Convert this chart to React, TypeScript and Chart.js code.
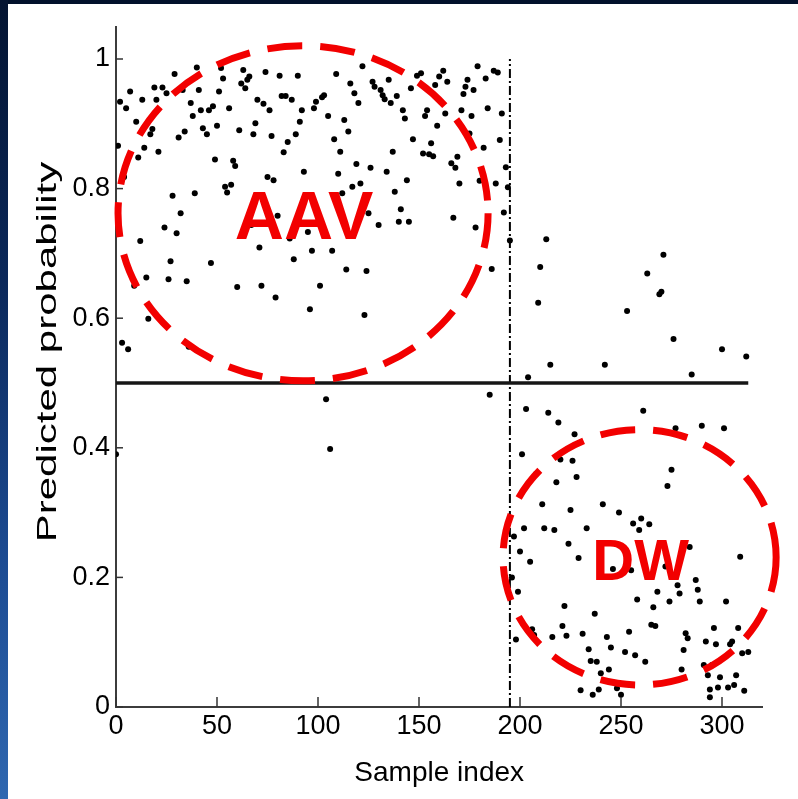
import React, { useEffect, useRef } from "react";
import { Chart, registerables } from "chart.js";

Chart.register(...registerables);

// ---- data ----
const aavIndex = [
  1, 4, 2, 5, 7, 10, 13, 14, 11, 18, 17, 19, 23, 20, 25, 21, 29, 33, 31, 34,
  37, 38, 40, 41, 42, 43, 45, 46, 48, 50, 49, 51, 53, 52, 56, 54, 55, 28, 39, 32,
  24, 30, 12, 27, 47, 15, 26, 35, 9, 16, 3, 6, 36,
  63, 62, 64, 66, 65, 74, 81, 90, 109, 70, 73, 76, 82, 84, 87, 92, 91, 89, 85, 83,
  77, 69, 68, 61, 98, 99, 102, 103, 105, 108, 111, 113, 58, 59, 57, 75, 78, 93, 110, 112,
  80, 67, 86, 95, 71, 97, 107, 88, 114, 60, 72, 101, 79, 96, 104, 100,
  122, 116, 118, 120, 127, 128, 131, 132, 133, 135, 136, 139, 142, 143, 146, 149, 151, 154, 153, 158,
  160, 162, 164, 163, 159, 147, 156, 152, 155, 157, 137, 115, 119, 126, 134, 121, 117, 144, 138, 166,
  125, 141, 130, 140, 145, 167, 124, 123,
  179, 187, 189, 183, 174, 173, 172, 177, 184, 171, 176, 191, 175, 182, 190, 169, 168, 170, 180, 188,
  193, 194, 192, 178, 195, 186, 185, 0, 106,
];
const aavProb = [
  0.866, 0.818, 0.934, 0.924, 0.95, 0.903, 0.937, 0.863, 0.848, 0.892, 0.884, 0.956, 0.956, 0.937, 0.947, 0.857, 0.977, 0.952, 0.879, 0.888,
  0.932, 0.912, 0.987, 0.952, 0.921, 0.893, 0.884, 0.921, 0.927, 0.897, 0.845, 0.95, 0.97, 0.986, 0.924, 0.803, 0.794, 0.789, 0.793, 0.762,
  0.74, 0.731, 0.719, 0.688, 0.685, 0.663, 0.66, 0.657, 0.65, 0.599, 0.562, 0.552, 0.556,
  0.983, 0.962, 0.955, 0.973, 0.968, 0.98, 0.974, 0.974, 0.977, 0.937, 0.931, 0.921, 0.943, 0.943, 0.937, 0.921, 0.903, 0.884, 0.872, 0.856,
  0.881, 0.901, 0.884, 0.89, 0.924, 0.934, 0.941, 0.944, 0.912, 0.876, 0.857, 0.906, 0.843, 0.835, 0.806, 0.818, 0.813, 0.826, 0.823, 0.793,
  0.758, 0.744, 0.723, 0.733, 0.709, 0.704, 0.704, 0.691, 0.675, 0.648, 0.65, 0.65, 0.632, 0.614, 0.475, 0.759,
  0.989, 0.962, 0.947, 0.932, 0.965, 0.957, 0.952, 0.944, 0.938, 0.968, 0.932, 0.943, 0.921, 0.908, 0.955, 0.974, 0.978, 0.921, 0.912, 0.96,
  0.973, 0.982, 0.965, 0.916, 0.897, 0.876, 0.87, 0.854, 0.853, 0.85, 0.857, 0.888, 0.838, 0.832, 0.826, 0.808, 0.803, 0.813, 0.795, 0.839,
  0.762, 0.768, 0.744, 0.749, 0.749, 0.755, 0.673, 0.605,
  0.989, 0.982, 0.979, 0.97, 0.968, 0.957, 0.946, 0.952, 0.924, 0.921, 0.912, 0.916, 0.885, 0.863, 0.875, 0.849, 0.832, 0.808, 0.812, 0.808,
  0.833, 0.802, 0.763, 0.74, 0.72, 0.676, 0.482, 0.39, 0.398,
];
const dwIndex = [
  204, 203, 201, 202, 197, 200, 196, 199, 198,
  213, 210, 209, 253, 215, 242, 214, 219, 227, 220, 226, 208, 228, 218, 211, 225, 241, 249, 212, 217, 233,
  256, 259, 224, 205, 229, 246, 255, 258, 222, 237, 221, 206, 207, 216, 223, 231, 243, 254, 234, 245,
  252, 257, 235, 238, 240, 244, 230, 236, 239, 248, 250,
  266, 265, 268, 274, 272, 278, 279, 284, 287, 288, 289, 302, 309, 260, 264,
  271, 263, 270, 269, 276, 300, 312, 285, 261, 277, 290, 301, 275, 273,
  267, 282, 283, 296, 308, 281, 292, 297, 304, 305, 310, 313, 262, 280, 291, 295, 293, 299, 307, 294,
  298, 294, 303, 306, 311,
];
const dwProb = [
  0.509, 0.46, 0.39, 0.276, 0.263, 0.24, 0.2, 0.178, 0.104,
  0.722, 0.679, 0.624, 0.611, 0.528, 0.528, 0.454, 0.439, 0.421, 0.382, 0.38, 0.36, 0.355, 0.347, 0.313, 0.304, 0.313, 0.3, 0.276, 0.273, 0.276,
  0.283, 0.273, 0.252, 0.224, 0.23, 0.213, 0.211, 0.166, 0.156, 0.144, 0.125, 0.12, 0.111, 0.108, 0.11, 0.113, 0.108, 0.116, 0.089, 0.092,
  0.085, 0.08, 0.071, 0.07, 0.052, 0.058, 0.026, 0.019, 0.027, 0.029, 0.019,
  0.154, 0.127, 0.178, 0.163, 0.217, 0.188, 0.175, 0.247, 0.196, 0.181, 0.163, 0.163, 0.232, 0.291, 0.282,
  0.698, 0.669, 0.641, 0.637, 0.568, 0.552, 0.541, 0.513, 0.457, 0.43, 0.434, 0.43, 0.366, 0.341,
  0.125, 0.114, 0.106, 0.122, 0.122, 0.088, 0.101, 0.097, 0.097, 0.101, 0.083, 0.085, 0.07, 0.058, 0.065, 0.065, 0.049, 0.046, 0.049, 0.027,
  0.03, 0.015, 0.03, 0.034, 0.025,
];

const xTickValues = [0, 50, 100, 150, 200, 250, 300];
const yTickValues = [0, 0.2, 0.4, 0.6, 0.8, 1];
const yTickLabels = ["0", "0.2", "0.4", "0.6", "0.8", "1"];

const thresholdProb = 0.5;
const thresholdRange = [0, 313];
const splitIndex = 195;
const splitRange = [0, 1];

const xTitle = "Sample index";
const yTitle = "Predicted probability";

const groupLabels = ["AAV", "DW"];
const groupCenterIndex = [92.6, 259.2];
const groupCenterProb = [0.762, 0.231];
const groupRadiusIndex = [91.6, 67.6];
const groupRadiusProb = [0.2585, 0.197];
const groupLabelIndex = [93.1, 259.7];
const groupLabelProb = [0.722, 0.196];

// ---- styles ----
const FONT = '"Liberation Sans", Arial, Helvetica, sans-serif';
const RED = "#f20000";
const groupFontSize = [68, 58];

const overlayPlugin = {
  id: "overlay",
  afterDatasetsDraw(chart: any) {
    const { ctx, chartArea } = chart;
    const x = chart.scales.x;
    const y = chart.scales.y;
    ctx.save();

    // inward tick marks
    ctx.strokeStyle = "#333";
    ctx.lineWidth = 1.5;
    ctx.setLineDash([]);
    xTickValues.forEach((v) => {
      const px = x.getPixelForValue(v);
      ctx.beginPath();
      ctx.moveTo(px, chartArea.bottom);
      ctx.lineTo(px, chartArea.bottom - 10);
      ctx.stroke();
    });
    yTickValues.forEach((v) => {
      const py = y.getPixelForValue(v);
      ctx.beginPath();
      ctx.moveTo(chartArea.left, py);
      ctx.lineTo(chartArea.left + 7, py);
      ctx.stroke();
    });

    // dashed red ellipses
    ctx.strokeStyle = RED;
    ctx.lineWidth = 7;
    ctx.setLineDash([35, 18]);
    groupLabels.forEach((_, i) => {
      const cx = x.getPixelForValue(groupCenterIndex[i]);
      const cy = y.getPixelForValue(groupCenterProb[i]);
      const rx = Math.abs(x.getPixelForValue(groupCenterIndex[i] + groupRadiusIndex[i]) - cx);
      const ry = Math.abs(y.getPixelForValue(groupCenterProb[i] + groupRadiusProb[i]) - cy);
      ctx.beginPath();
      ctx.ellipse(cx, cy, rx, ry, 0, 0, Math.PI * 2);
      ctx.stroke();
    });

    // group labels
    ctx.setLineDash([]);
    ctx.fillStyle = RED;
    ctx.textAlign = "center";
    ctx.textBaseline = "alphabetic";
    groupLabels.forEach((t, i) => {
      ctx.font = `bold ${groupFontSize[i]}px ${FONT}`;
      ctx.fillText(t, x.getPixelForValue(groupLabelIndex[i]), y.getPixelForValue(groupLabelProb[i]));
    });

    // y axis title (stretched like the reference)
    ctx.fillStyle = "#000";
    ctx.font = `28px ${FONT}`;
    ctx.textAlign = "center";
    ctx.textBaseline = "middle";
    ctx.translate(40, 348);
    ctx.rotate(-Math.PI / 2);
    ctx.scale(1.5, 1);
    ctx.fillText(yTitle, 0, 0);

    ctx.restore();
  },
};

export default function App() {
  const ref = useRef<HTMLCanvasElement>(null);

  useEffect(() => {
    const canvas = ref.current;
    if (!canvas) return;
    const chart = new Chart(canvas, {
      type: "scatter",
      data: {
        datasets: [
          {
            label: "AAV",
            data: aavIndex.map((v, i) => ({ x: v, y: aavProb[i] })),
            pointStyle: "circle",
            pointRadius: 3,
            pointBackgroundColor: "#000",
            pointBorderWidth: 0,
            showLine: false,
          },
          {
            label: "DW",
            data: dwIndex.map((v, i) => ({ x: v, y: dwProb[i] })),
            pointStyle: "circle",
            pointRadius: 3,
            pointBackgroundColor: "#000",
            pointBorderWidth: 0,
            showLine: false,
          },
          {
            label: "threshold",
            data: thresholdRange.map((v) => ({ x: v, y: thresholdProb })),
            showLine: true,
            borderColor: "#161616",
            borderWidth: 3.5,
            pointRadius: 0,
            fill: false,
          },
          {
            label: "split",
            data: splitRange.map((v) => ({ x: splitIndex, y: v })),
            showLine: true,
            borderColor: "#000",
            borderWidth: 2,
            borderDash: [9, 3, 2, 3],
            pointRadius: 0,
            fill: false,
          },
        ],
      },
      options: {
        animation: false,
        responsive: false,
        devicePixelRatio: 1,
        layout: { padding: { left: 0, top: 22.6, right: 35.6, bottom: 0 } },
        plugins: {
          legend: { display: false },
          tooltip: { enabled: false },
        },
        scales: {
          x: {
            type: "linear",
            min: 0,
            max: 320,
            afterBuildTicks: (scale: any) => {
              scale.ticks = xTickValues.map((v) => ({ value: v }));
            },
            afterFit: (scale: any) => {
              scale.height = 92;
            },
            grid: { display: false, drawTicks: false },
            border: { display: true, color: "#3c3c3c", width: 2 },
            ticks: {
              autoSkip: false,
              maxRotation: 0,
              padding: 3,
              color: "#000",
              font: { family: FONT, size: 27 },
              callback: (_v: any, i: number) => String(xTickValues[i]),
            },
            title: {
              display: true,
              text: xTitle,
              color: "#000",
              font: { family: FONT, size: 28 },
              padding: { top: 0, bottom: 9 },
            },
          },
          y: {
            type: "linear",
            min: 0,
            max: 1.05,
            afterBuildTicks: (scale: any) => {
              scale.ticks = yTickValues.map((v) => ({ value: v }));
            },
            afterFit: (scale: any) => {
              scale.width = 108;
            },
            grid: { display: false, drawTicks: false },
            border: { display: true, color: "#3c3c3c", width: 2 },
            ticks: {
              autoSkip: false,
              padding: 6,
              color: "#000",
              font: { family: FONT, size: 27 },
              callback: (_v: any, i: number) => yTickLabels[i],
            },
          },
        },
      },
      plugins: [overlayPlugin],
    });
    return () => chart.destroy();
  }, []);

  return (
    <div
      style={{
        position: "fixed",
        left: 0,
        top: 0,
        width: 798,
        height: 799,
        background: "#02112b",
        overflow: "hidden",
      }}
    >
      <div
        style={{
          position: "absolute",
          left: 0,
          top: 0,
          width: 8,
          height: 799,
          background:
            "linear-gradient(180deg, #041431 0%, #0b285a 35%, #1c4b92 70%, #2f67b0 100%)",
        }}
      />
      <div
        style={{
          position: "absolute",
          left: 8,
          top: 4,
          width: 790,
          height: 795,
          background: "#ffffff",
        }}
      >
        <canvas ref={ref} width={790} height={795} style={{ display: "block", width: 790, height: 795 }} />
      </div>
    </div>
  );
}
